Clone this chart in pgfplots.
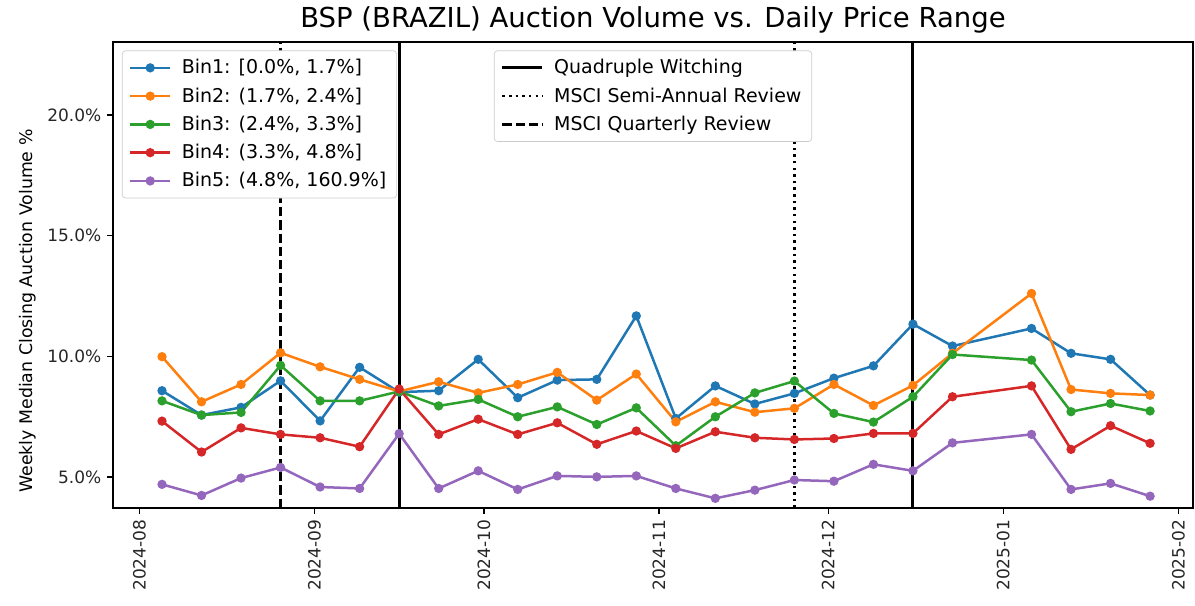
\documentclass[border=0pt]{standalone}
\usepackage{pgfplots}
\pgfplotsset{compat=1.18}
\usepackage{pgfplotstable}
\usepackage{fontspec}
\setmainfont{DejaVu Sans}
\definecolor{c0}{HTML}{1F77B4}
\definecolor{c1}{HTML}{FF7F0E}
\definecolor{c2}{HTML}{2CA02C}
\definecolor{c3}{HTML}{D62728}
\definecolor{c4}{HTML}{9467BD}

\pgfplotstableread{
day b1 b2 b3 b4 b5
4 8.58 9.99 8.16 7.32 4.70
11 7.57 8.12 7.57 6.04 4.24
18 7.89 8.84 7.68 7.04 4.96
25 8.99 10.15 9.63 6.77 5.40
32 7.33 9.57 8.16 6.63 4.59
39 9.55 9.05 8.16 6.26 4.53
46 8.52 8.55 8.55 8.65 6.80
53 8.58 8.95 7.95 6.77 4.53
60 9.88 8.49 8.22 7.40 5.26
67 8.29 8.84 7.50 6.77 4.49
74 9.02 9.34 7.91 7.25 5.05
81 9.05 8.19 7.18 6.36 5.01
88 11.68 9.27 7.87 6.91 5.05
95 7.43 7.29 6.30 6.19 4.53
102 8.78 8.12 7.50 6.88 4.12
109 8.03 7.69 8.49 6.63 4.46
116 8.47 7.85 8.98 6.56 4.88
123 9.10 8.84 7.64 6.60 4.83
130 9.61 7.97 7.28 6.81 5.53
137 11.34 8.80 8.33 6.81 5.26
144 10.43 10.13 10.08 8.33 6.42
158 11.16 12.61 9.85 8.78 6.77
165 10.13 8.63 7.71 6.15 4.49
172 9.88 8.47 8.05 7.13 4.74
179 8.40 8.40 7.74 6.40 4.21
}\datatable

\pgfplotsset{
  mylegend/.style={
    font=\fontsize{11.4}{13.7}\selectfont,
    draw=black!20, rounded corners=2pt, fill=white,
    row sep=2.4pt, column sep=4pt, inner xsep=4pt, inner ysep=3pt,
    nodes={inner sep=2.2pt},
  },
  legend image code/.code={\draw[mark repeat=2, mark phase=2, #1] plot coordinates {(0pt,0pt) (12pt,0pt) (24pt,0pt)};},
  common/.style={
    scale only axis, width=648pt, height=279.6pt,
    xmin=-4.68, xmax=186.6, ymin=3.72, ymax=23.03,
  },
}

\begin{document}
\begin{tikzpicture}
\begin{axis}[common,
  xtick={0,31,61,92,122,153,184},
  xticklabels={2024-08,2024-09,2024-10,2024-11,2024-12,2025-01,2025-02},
  ytick={5,10,15,20},
  yticklabels={5.0\%,10.0\%,15.0\%,20.0\%},
  xticklabel style={rotate=90, anchor=east},
  tick align=outside, xtick pos=left, ytick pos=left,
  major tick length=3.5pt,
  every tick/.style={black, line width=0.8pt},
  axis line style={line width=0.8pt},
  tick label style={font=\fontsize{10.2}{12}\selectfont, text=black!85},
  /pgf/number format/assume math mode=true,
  title={BSP (BRAZIL) Auction Volume vs. Daily Price Range},
  title style={font=\fontsize{16.5}{19}\selectfont, at={(0.5,1)}, anchor=base, yshift=2.5pt},
  ylabel={Weekly Median Closing Auction Volume \%},
  ylabel style={font=\fontsize{10.4}{12}\selectfont, at={(ticklabel cs:0.4227)}},
  legend style={mylegend, at={(0.0083,0.982)}, anchor=north west},
  legend cell align=left,
  every axis plot/.append style={line width=1.5pt, mark=*, mark size=2pt, mark options={solid}},
]
\addplot[c0] table[x=day, y=b1] {\datatable};
\addlegendentry{Bin1: [0.0\%, 1.7\%]}
\addplot[c1] table[x=day, y=b2] {\datatable};
\addlegendentry{Bin2: (1.7\%, 2.4\%]}
\addplot[c2] table[x=day, y=b3] {\datatable};
\addlegendentry{Bin3: (2.4\%, 3.3\%]}
\addplot[c3] table[x=day, y=b4] {\datatable};
\addlegendentry{Bin4: (3.3\%, 4.8\%]}
\addplot[c4] table[x=day, y=b5] {\datatable};
\addlegendentry{Bin5: (4.8\%, 160.9\%]}
\addplot[black, no marks, line width=1.8pt, forget plot] coordinates {(46,3.72) (46,23.03)};
\addplot[black, no marks, line width=1.8pt, forget plot] coordinates {(137,3.72) (137,23.03)};
\addplot[black, no marks, line width=1.5pt, dash pattern=on 1.5pt off 2.475pt, forget plot] coordinates {(116,3.72) (116,23.03)};
\addplot[black, no marks, line width=1.5pt, dash pattern=on 5.55pt off 2.4pt, forget plot] coordinates {(25,3.72) (25,23.03)};
\coordinate (SW) at (rel axis cs:0,0);
\coordinate (NE) at (rel axis cs:1,1);
\end{axis}
\begin{axis}[common, hide axis,
  legend style={mylegend, at={(0.5,0.982)}, anchor=north},
  legend cell align=left,
]
\addlegendimage{black, line width=1.8pt}
\addlegendentry{Quadruple Witching}
\addlegendimage{black, line width=1.5pt, dash pattern=on 1.5pt off 2.475pt}
\addlegendentry{MSCI Semi-Annual Review}
\addlegendimage{black, line width=1.5pt, dash pattern=on 5.55pt off 2.4pt}
\addlegendentry{MSCI Quarterly Review}
\end{axis}
\pgfresetboundingbox
\path[use as bounding box] ([xshift=-67.8pt,yshift=-58.8pt]SW) rectangle ([xshift=1.2pt,yshift=25.2pt]NE);
\end{tikzpicture}
\end{document}
